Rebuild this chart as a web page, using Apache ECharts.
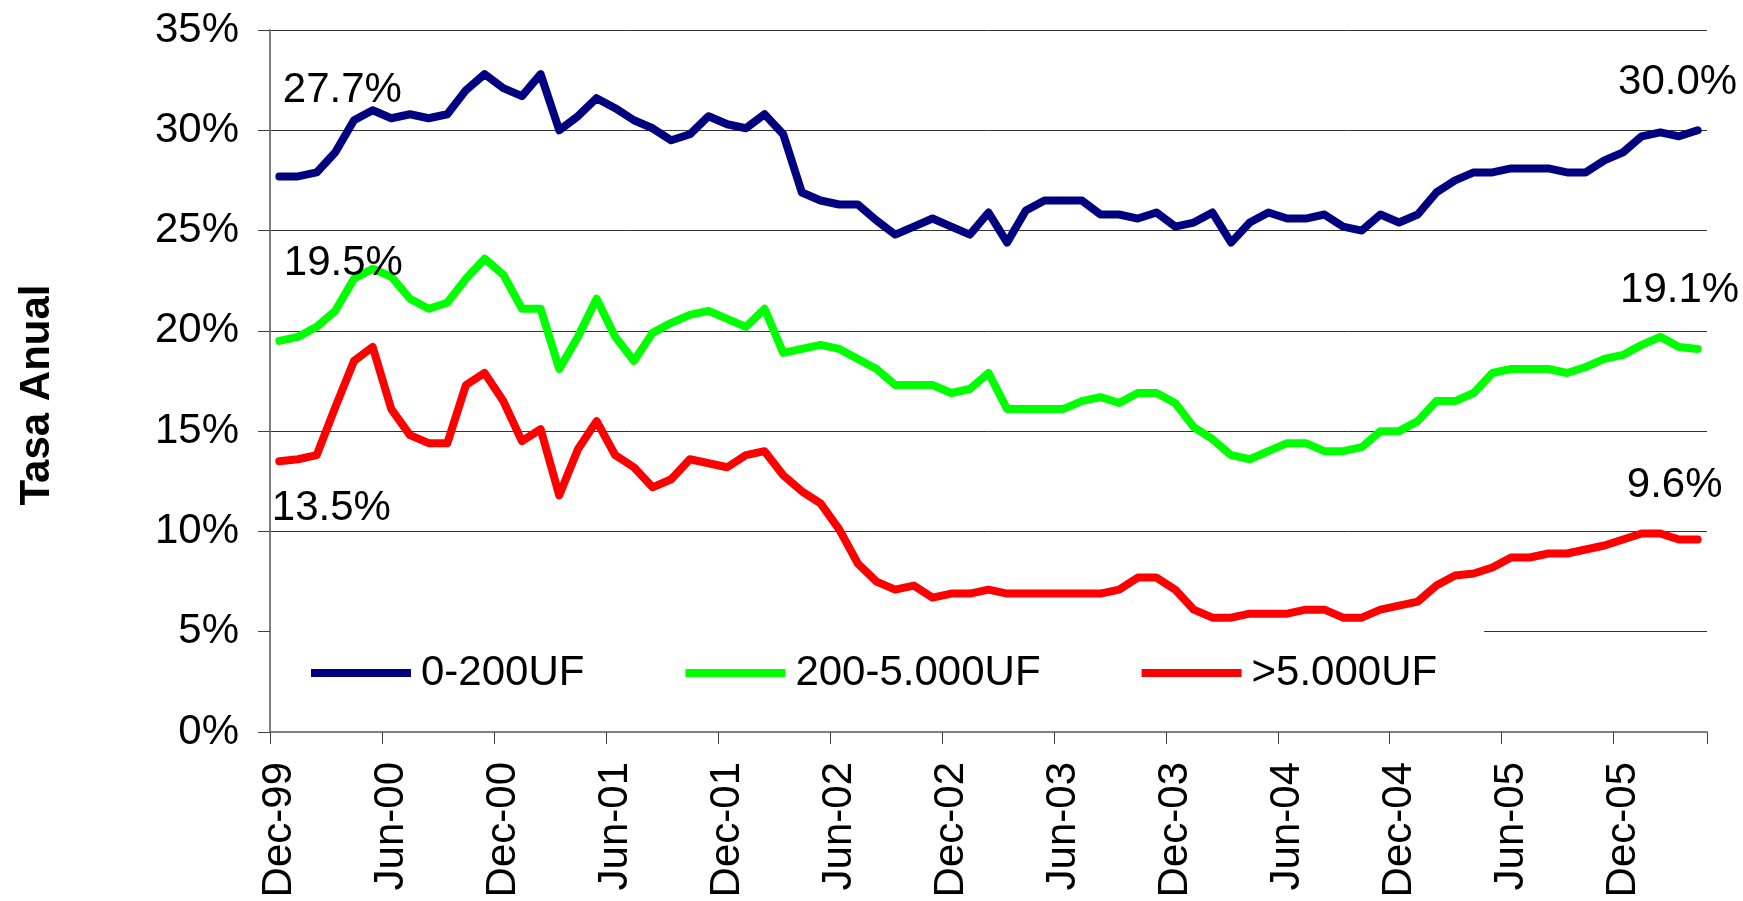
<!DOCTYPE html>
<html>
<head>
<meta charset="utf-8">
<script src="https://cdn.jsdelivr.net/npm/echarts@6/dist/echarts.min.js"></script>
<style>
  html, body { margin: 0; padding: 0; background: #fff; }
  #chart { width: 1743px; height: 901px; }
</style>
</head>
<body>
<div id="chart"></div>
<script>
// meses, de Dec-99 a Apr-06
const months = [
  'Dec-99',
  'Jan-00','Feb-00','Mar-00','Apr-00','May-00','Jun-00','Jul-00','Aug-00','Sep-00','Oct-00','Nov-00','Dec-00',
  'Jan-01','Feb-01','Mar-01','Apr-01','May-01','Jun-01','Jul-01','Aug-01','Sep-01','Oct-01','Nov-01','Dec-01',
  'Jan-02','Feb-02','Mar-02','Apr-02','May-02','Jun-02','Jul-02','Aug-02','Sep-02','Oct-02','Nov-02','Dec-02',
  'Jan-03','Feb-03','Mar-03','Apr-03','May-03','Jun-03','Jul-03','Aug-03','Sep-03','Oct-03','Nov-03','Dec-03',
  'Jan-04','Feb-04','Mar-04','Apr-04','May-04','Jun-04','Jul-04','Aug-04','Sep-04','Oct-04','Nov-04','Dec-04',
  'Jan-05','Feb-05','Mar-05','Apr-05','May-05','Jun-05','Jul-05','Aug-05','Sep-05','Oct-05','Nov-05','Dec-05',
  'Jan-06','Feb-06','Mar-06','Apr-06'
]

const tramo1 = [ // 0-200UF
  27.7, 27.7, 27.9, 28.9, 30.5, 31.0, 30.6, 30.8, 30.6, 30.8,
  32.0, 32.8, 32.1, 31.7, 32.8, 30.0, 30.7, 31.6, 31.1, 30.5,
  30.1, 29.5, 29.8, 30.7, 30.3, 30.1, 30.8, 29.8, 26.9, 26.5,
  26.3, 26.3, 25.5, 24.8, 25.2, 25.6, 25.2, 24.8, 25.9, 24.4,
  26.0, 26.5, 26.5, 26.5, 25.8, 25.8, 25.6, 25.9, 25.2, 25.4,
  25.9, 24.4, 25.4, 25.9, 25.6, 25.6, 25.8, 25.2, 25.0, 25.8,
  25.4, 25.8, 26.9, 27.5, 27.9, 27.9, 28.1, 28.1, 28.1, 27.9,
  27.9, 28.5, 28.9, 29.7, 29.9, 29.7, 30.0
]
const tramo2 = [ // 200-5.000UF
  19.5, 19.7, 20.2, 21.0, 22.6, 23.1, 22.7, 21.6, 21.1, 21.4,
  22.6, 23.6, 22.8, 21.1, 21.1, 18.1, 19.7, 21.6, 19.7, 18.5,
  19.9, 20.4, 20.8, 21.0, 20.6, 20.2, 21.1, 18.9, 19.1, 19.3,
  19.1, 18.6, 18.1, 17.3, 17.3, 17.3, 16.9, 17.1, 17.9, 16.1,
  16.1, 16.1, 16.1, 16.5, 16.7, 16.4, 16.9, 16.9, 16.4, 15.2,
  14.6, 13.8, 13.6, 14.0, 14.4, 14.4, 14.0, 14.0, 14.2, 15.0,
  15.0, 15.5, 16.5, 16.5, 16.9, 17.9, 18.1, 18.1, 18.1, 17.9,
  18.2, 18.6, 18.8, 19.3, 19.7, 19.2, 19.1
]
const tramo3 = [ // >5.000UF
  13.5, 13.6, 13.8, 16.2, 18.5, 19.2, 16.1, 14.8, 14.4, 14.4,
  17.3, 17.9, 16.5, 14.5, 15.1, 11.8, 14.1, 15.5, 13.8, 13.2,
  12.2, 12.6, 13.6, 13.4, 13.2, 13.8, 14.0, 12.8, 12.0, 11.4,
  10.1, 8.4, 7.5, 7.1, 7.3, 6.7, 6.9, 6.9, 7.1, 6.9,
  6.9, 6.9, 6.9, 6.9, 6.9, 7.1, 7.7, 7.7, 7.1, 6.1,
  5.7, 5.7, 5.9, 5.9, 5.9, 6.1, 6.1, 5.7, 5.7, 6.1,
  6.3, 6.5, 7.3, 7.8, 7.9, 8.2, 8.7, 8.7, 8.9, 8.9,
  9.1, 9.3, 9.6, 9.9, 9.9, 9.6, 9.6
]

const yTicks = [0, 5, 10, 15, 20, 25, 30, 35]

const FONT = "'Liberation Sans', Arial, sans-serif"

// etiqueta en el primer y ultimo punto
const withEnds = (values, firstOff, lastOff) => values.map((v, i) => {
  if (i === 0 || i === values.length - 1) {
    return {
      value: v,
      label: {
        show: true,
        position: 'inside',
        offset: i === 0 ? firstOff : lastOff,
        formatter: p => p.value.toFixed(1) + '%',
        color: '#000',
        fontSize: 42,
        fontFamily: FONT
      }
    }
  }
  return v
})

const lineSeries = (name, color, values, firstOff, lastOff) => ({
  type: 'line',
  name: name,
  data: withEnds(values, firstOff, lastOff),
  symbol: 'circle',
  symbolSize: 1,
  showSymbol: true,
  itemStyle: { color: color },
  lineStyle: { color: color, width: 8, cap: 'round', join: 'round' },
  animation: false
})

const chart = echarts.init(document.getElementById('chart'))
chart.setOption({
  backgroundColor: '#fff',
  grid: { left: 270, right: 36, top: 30, bottom: 169 },
  legend: {
    left: 271,
    top: 626,
    padding: [23, 47, 10, 40],
    backgroundColor: '#fff',
    icon: 'rect',
    itemWidth: 100,
    itemHeight: 8,
    itemGap: 101,
    textStyle: { fontSize: 42, fontFamily: FONT, color: '#000', lineHeight: 48, padding: [0, 0, 0, 5] },
    data: ['0-200UF', '200-5.000UF', '>5.000UF']
  },
  graphic: [{
    type: 'text',
    x: 37,
    y: 395,
    rotation: Math.PI / 2,
    style: {
      text: 'Tasa Anual',
      font: "bold 42px 'Liberation Sans', Arial, sans-serif",
      fill: '#000',
      align: 'center',
      verticalAlign: 'middle'
    }
  }],
  xAxis: {
    type: 'category',
    data: months,
    boundaryGap: true,
    axisLine: { lineStyle: { color: '#808080', width: 2 } },
    axisTick: { show: true, interval: 5, length: 12, lineStyle: { color: '#404040' } },
    axisLabel: {
      interval: 5,
      rotate: 90,
      margin: 30,
      fontSize: 42,
      fontFamily: FONT,
      color: '#000'
    },
    splitLine: { show: false }
  },
  yAxis: {
    type: 'value',
    min: yTicks[0],
    max: yTicks[yTicks.length - 1],
    interval: 5,
    axisLine: { show: true, lineStyle: { color: '#808080', width: 2 } },
    axisTick: { show: true, length: 12, lineStyle: { color: '#404040' } },
    axisLabel: {
      formatter: '{value}%',
      margin: 31,
      fontSize: 42,
      fontFamily: FONT,
      color: '#000'
    },
    splitLine: { lineStyle: { color: '#333', width: 1 } }
  },
  series: [
    lineSeries('0-200UF', '#000080', tramo1, [63, -86], [-20, -48]),
    lineSeries('200-5.000UF', '#00FF00', tramo2, [64, -77], [-18, -58]),
    lineSeries('>5.000UF', '#FF0000', tramo3, [52, 47], [-23, -54])
  ]
})
</script>
</body>
</html>
